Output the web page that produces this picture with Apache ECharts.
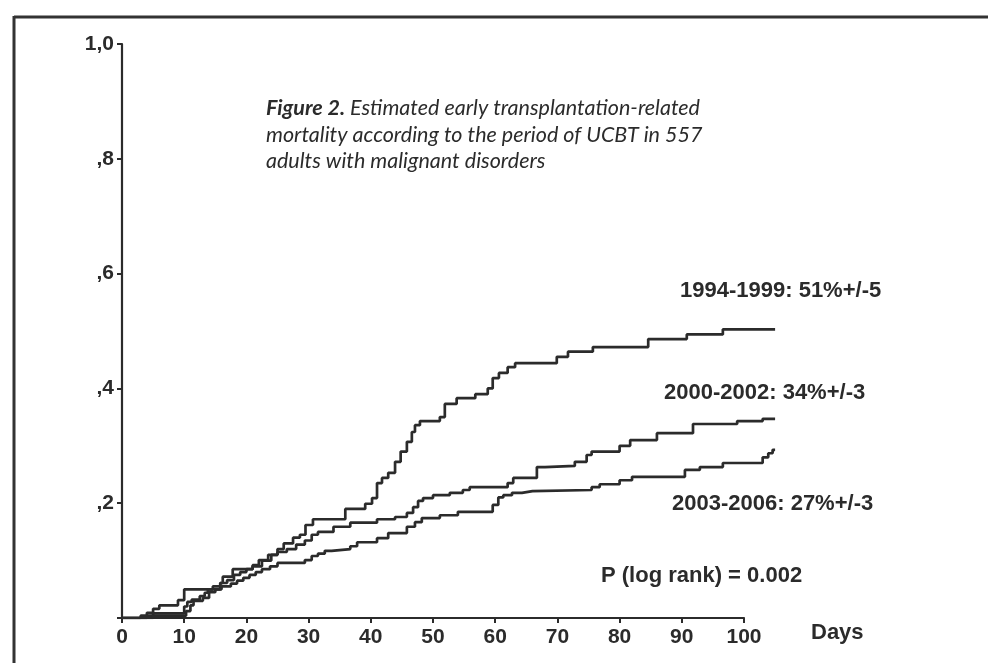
<!DOCTYPE html>
<html lang="en">
<head>
    <meta charset="UTF-8">
    <title>Early transplantation-related mortality</title>
    <script src="https://cdn.jsdelivr.net/npm/echarts@6.0.0/dist/echarts.min.js"></script>
    <style>
        html, body { margin: 0; padding: 0; background: #fff; }
    </style>
</head>
<body>
<div id="main" style="width: 988px; height: 663px;"></div>
<script>
    // x ticks (days) and y ticks
    var xTicks = [0, 10, 20, 30, 40, 50, 60, 70, 80, 90, 100];
    var yTickLabels = ['', ',2', ',4', ',6', ',8', '1,0'];

    var seriesNames = ['1994-1999: 51%+/-5', '2000-2002: 34%+/-3', '2003-2006: 27%+/-3'];

    // [day, cumulative incidence]
    var period1994 = [
        [0, 0], [4, 0.009], [5, 0.016], [6, 0.022], [9, 0.031], [10, 0.05], [15.8, 0.061], [16.2, 0.072],
        [17.8, 0.085], [21, 0.092], [22, 0.101], [23.5, 0.11], [25, 0.12], [26, 0.13], [27.5, 0.14],
        [28.6, 0.145], [29.5, 0.162], [30.7, 0.172], [35.9, 0.19], [39.1, 0.199], [40.2, 0.209],
        [41, 0.235], [41.8, 0.244], [42.8, 0.253], [43.9, 0.272], [44.8, 0.29], [45.8, 0.307],
        [46.6, 0.324], [47.1, 0.336], [47.9, 0.343], [51.1, 0.35], [51.9, 0.373], [53.8, 0.383],
        [56.8, 0.39], [58.8, 0.4], [59.6, 0.418], [60.6, 0.427], [62, 0.437], [63.2, 0.444],
        [69.9, 0.455], [71.7, 0.464], [75.7, 0.472], [84.6, 0.486], [90.8, 0.494], [96.6, 0.503],
        [105, 0.503]
    ];
    var period2000 = [
        [0, 0], [3, 0.004], [5, 0.008], [10, 0.02], [10.5, 0.028], [11.2, 0.032], [12.5, 0.038],
        [13.3, 0.044], [13.8, 0.05], [14.6, 0.055], [15.8, 0.061], [16.9, 0.066], [18, 0.075],
        [19, 0.08], [20, 0.085], [21, 0.09], [22.5, 0.1], [24, 0.11], [25, 0.115], [26.5, 0.12],
        [28, 0.128], [29.4, 0.135], [30.5, 0.145], [31.5, 0.15], [34, 0.159], [36.7, 0.166],
        [41, 0.172], [43.9, 0.176], [45.8, 0.183], [46.8, 0.193], [47.6, 0.204], [48.4, 0.209],
        [50, 0.214], [52.7, 0.218], [54.8, 0.223], [55.9, 0.228], [62, 0.235], [62.9, 0.244],
        [66.7, 0.263], [68, 0.265], [72.8, 0.272], [74.7, 0.284], [75.5, 0.29], [80, 0.3],
        [81.7, 0.31], [86, 0.322], [91.8, 0.338], [98.9, 0.343], [103, 0.347], [105, 0.347]
    ];
    var period2003 = [
        [0, 0], [5, 0.004], [10.3, 0.012], [11, 0.022], [11.5, 0.03], [13, 0.035], [14, 0.045],
        [15, 0.05], [16, 0.055], [17.5, 0.06], [18.5, 0.065], [19.5, 0.07], [20.5, 0.075],
        [21.5, 0.08], [22.5, 0.085], [23.8, 0.09], [25, 0.096], [29.4, 0.101], [30.5, 0.108],
        [31.5, 0.112], [32.6, 0.117], [33.7, 0.12], [36.7, 0.125], [37.8, 0.132], [41, 0.139],
        [42.8, 0.148], [45.8, 0.159], [47.1, 0.167], [48.2, 0.174], [51.1, 0.179], [54, 0.185],
        [59.6, 0.197], [60.5, 0.21], [61.3, 0.214], [62.7, 0.218], [64.3, 0.221], [66, 0.223],
        [75.5, 0.228], [76.8, 0.233], [80, 0.24], [82, 0.246], [90.5, 0.258], [92.9, 0.263],
        [96.6, 0.27], [103, 0.28], [103.9, 0.287], [104.6, 0.293], [105, 0.293]
    ];

    var myChart = echarts.init(document.getElementById('main'));
    var ink = '#2b2b2b';
    var boldFont = { fontFamily: 'Liberation Sans', fontWeight: 'bold', fontSize: 21, color: ink };
    var noteFont = 'bold 22px "Liberation Sans"';

    function kmSeries(name, data) {
        return {
            name: name,
            type: 'line',
            xAxisIndex: 1,
            yAxisIndex: 1,
            step: 'end',
            data: data,
            showSymbol: false,
            silent: true,
            lineStyle: { color: ink, width: 2.7 },
            animation: false
        };
    }

    var option = {
        animation: false,
        grid: [
            // axes grid: 0..100 days
            { left: 122, top: 44, width: 622, height: 574, outerBoundsMode: 'none' },
            // data grid: same scale but reaches 105 days
            { left: 122, top: 44, width: 653.1, height: 574, outerBoundsMode: 'none' }
        ],
        xAxis: [
            {
                gridIndex: 0, type: 'value', min: 0, max: 100, interval: 10,
                axisLine: { show: true, lineStyle: { color: ink, width: 2.2 } },
                axisTick: { show: true, length: 5, lineStyle: { color: ink, width: 2 } },
                axisLabel: Object.assign({ margin: 9, formatter: function (v) { return xTicks.indexOf(v) >= 0 ? String(v) : ''; } }, boldFont),
                splitLine: { show: false }
            },
            { gridIndex: 1, type: 'value', min: 0, max: 105, show: false }
        ],
        yAxis: [
            {
                gridIndex: 0, type: 'value', min: 0, max: 1, interval: 0.2,
                axisLine: { show: true, lineStyle: { color: ink, width: 2.2 } },
                axisTick: { show: true, length: 5, lineStyle: { color: ink, width: 2 } },
                axisLabel: Object.assign({ margin: 8, formatter: function (v) { return yTickLabels[Math.round(v * 5)]; } }, boldFont),
                splitLine: { show: false }
            },
            { gridIndex: 1, type: 'value', min: 0, max: 1, show: false }
        ],
        series: [
            kmSeries(seriesNames[0], period1994),
            kmSeries(seriesNames[1], period2000),
            kmSeries(seriesNames[2], period2003)
        ],
        graphic: [
            // frame
            { type: 'line', shape: { x1: 14, y1: 17, x2: 988, y2: 17 }, style: { stroke: '#333', lineWidth: 3 } },
            { type: 'line', shape: { x1: 14, y1: 16, x2: 14, y2: 663 }, style: { stroke: '#333', lineWidth: 3 } },
            // caption
            {
                type: 'text', left: 266, top: 95,
                style: {
                    text: '{b|Figure 2.} Estimated early transplantation-related\nmortality according to the period of UCBT in 557\nadults with malignant disorders',
                    fontFamily: 'Lato', fontStyle: 'italic', fontSize: 21.5, lineHeight: 26.5, fill: ink,
                    rich: { b: { fontFamily: 'Lato', fontStyle: 'italic', fontWeight: 'bold', fontSize: 21.5, fill: ink } }
                }
            },
            // curve labels
            { type: 'text', left: 680, top: 280, style: { text: seriesNames[0], font: noteFont, fill: ink } },
            { type: 'text', left: 664, top: 382, style: { text: seriesNames[1], font: noteFont, fill: ink } },
            { type: 'text', left: 672, top: 493, style: { text: seriesNames[2], font: noteFont, fill: ink } },
            { type: 'text', left: 601, top: 565, style: { text: 'P (log rank) = 0.002', font: noteFont, fill: ink } },
            { type: 'text', left: 811, top: 622, style: { text: 'Days', font: noteFont, fill: ink } }
        ]
    };

    myChart.setOption(option);
</script>
</body>
</html>
